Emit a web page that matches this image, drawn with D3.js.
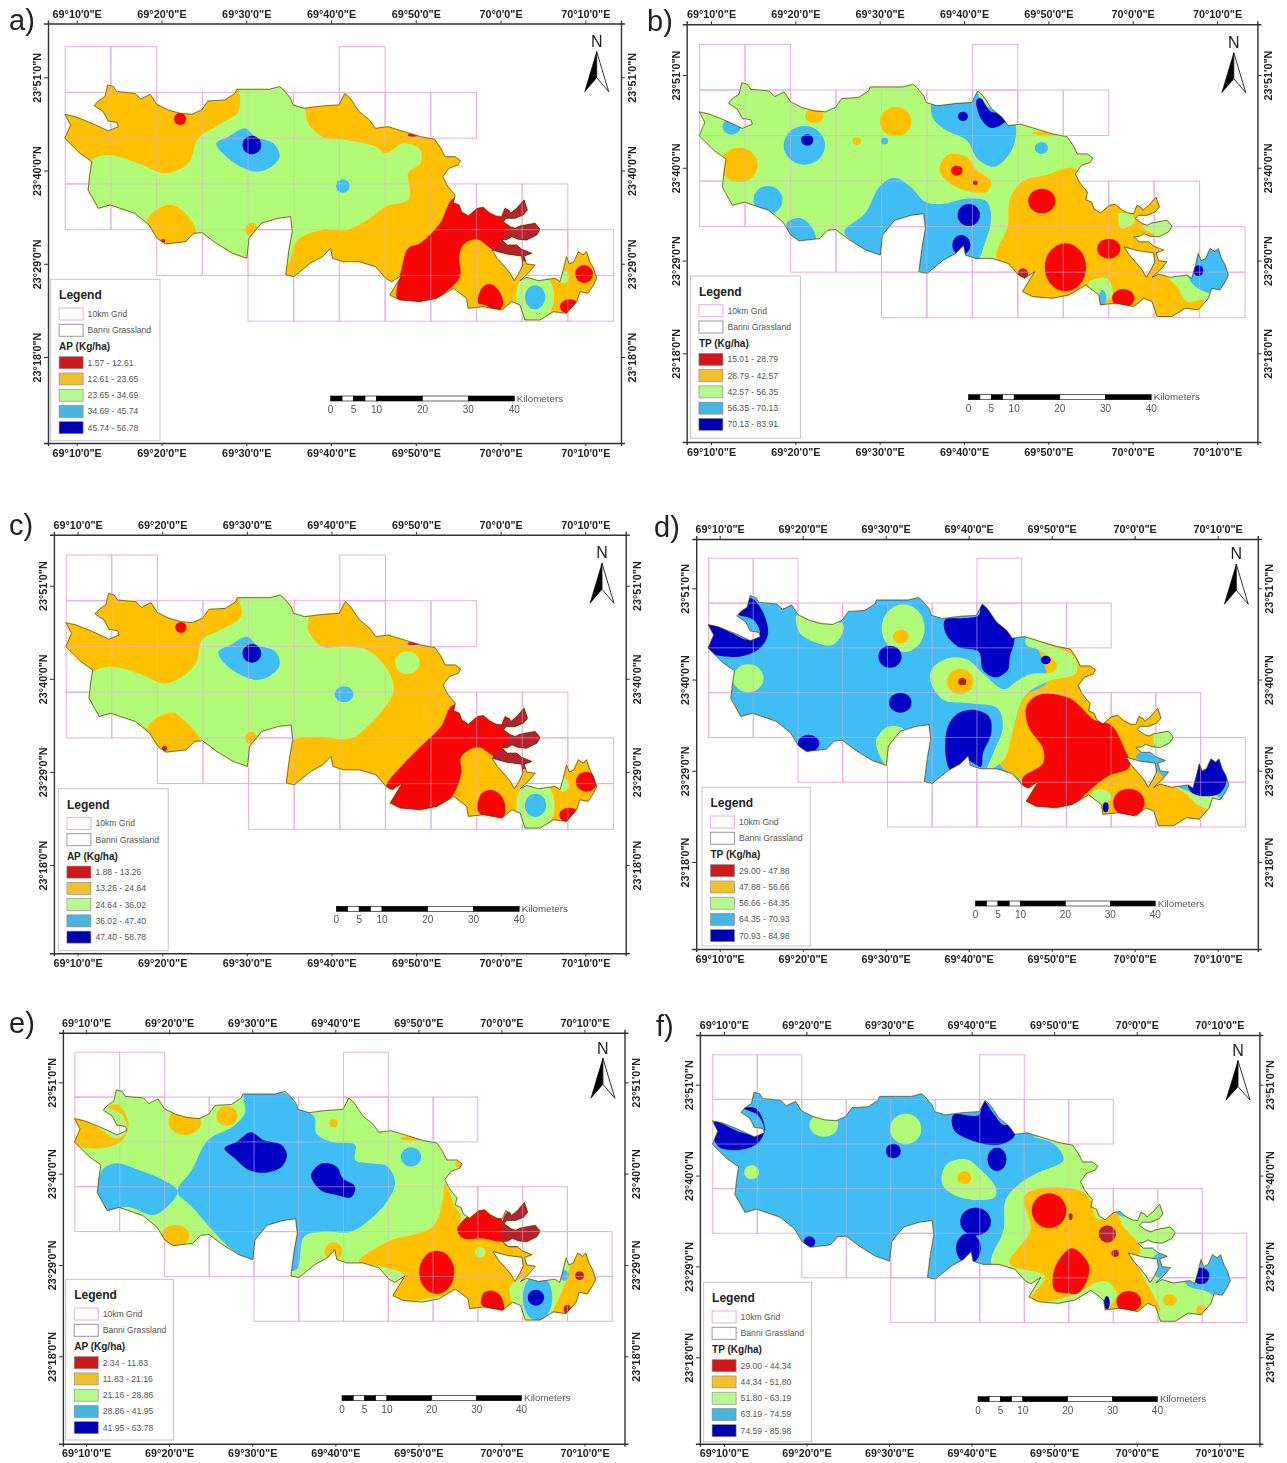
<!DOCTYPE html>
<html><head><meta charset="utf-8"><style>
html,body{margin:0;background:#fff}
svg{display:block;filter:blur(.55px)}
text{font-family:"Liberation Sans",Arial,sans-serif}
</style>
<script src="https://cdn.jsdelivr.net/npm/d3@7/dist/d3.min.js"></script></head><body>
<script>
// ---------- axis values ----------
const lonTicks=[10,20,30,40,50,60,70];
const lonTickLabels=['69°10\'0"E','69°20\'0"E','69°30\'0"E','69°40\'0"E','69°50\'0"E','70°0\'0"E','70°10\'0"E'];
const latTicks=[51,40,29,18];
const latTickLabels=['23°51\'0"N','23°40\'0"N','23°29\'0"N','23°18\'0"N'];
const scaleKm=[0,2.5,5,7.5,10,20,30,40];
const scaleLabels=[0,5,10,20,30,40];

// ---------- 10 km grid: row, columns present ----------
const gridRows=[[0,[0,1,6]],[1,[0,1,2,3,4,5,6,7,8]],[2,[0,1,2,3,4,5,6,7]],[3,[0,1,2,3,4,5,6,7,8,9,10]],[4,[2,3,4,5,6,7,8,9,10,11]],[5,[4,5,6,7,8,9,10,11]]];

// ---------- boundary and inner lake, digitised on sheet a ----------
const boundary=[[159,343],[184,350],[225,370],[265,393],[290,380],[286,367],[265,363],[253,335],[231,317],[241,303],[257,290],[264,255],[278,260],[286,275],[331,280],[345,297],[368,283],[384,313],[412,330],[441,340],[470,343],[494,330],[510,303],[551,300],[576,280],[580,268],[620,268],[660,268],[685,260],[695,270],[712,295],[718,315],[745,325],[790,318],[830,315],[845,280],[858,295],[880,335],[905,360],[920,385],[950,380],[990,395],[1030,410],[1065,418],[1080,445],[1090,470],[1115,470],[1128,482],[1122,495],[1100,505],[1085,530],[1095,555],[1104,570],[1115,585],[1111,608],[1125,615],[1131,635],[1147,648],[1169,625],[1184,622],[1199,638],[1215,648],[1229,650],[1237,625],[1248,632],[1251,640],[1266,625],[1278,608],[1284,600],[1292,630],[1282,645],[1262,655],[1240,655],[1233,665],[1250,680],[1262,685],[1274,678],[1311,670],[1323,688],[1315,705],[1290,720],[1270,718],[1254,710],[1243,718],[1229,720],[1243,735],[1266,735],[1278,748],[1303,760],[1284,768],[1290,792],[1311,795],[1294,820],[1274,842],[1290,832],[1319,842],[1360,835],[1372,845],[1380,810],[1388,770],[1395,792],[1406,785],[1417,755],[1429,765],[1437,755],[1445,785],[1454,805],[1462,835],[1454,855],[1441,880],[1421,875],[1413,905],[1388,940],[1356,935],[1323,960],[1286,960],[1274,915],[1254,905],[1229,930],[1184,920],[1147,925],[1143,895],[1111,865],[1070,895],[1029,905],[980,900],[955,885],[985,825],[960,845],[945,835],[920,800],[880,785],[840,785],[815,775],[810,745],[790,770],[760,790],[720,830],[700,825],[708,750],[716,695],[712,650],[680,655],[640,670],[610,715],[605,775],[570,760],[530,730],[495,698],[475,700],[455,725],[405,732],[385,715],[365,675],[330,640],[270,615],[241,625],[216,570],[220,525],[225,485],[196,460],[159,415],[173,375]];
const lake=[[1205,750],[1241,762],[1278,768],[1281,795],[1272,818],[1260,842],[1250,820],[1233,795],[1218,775]];

// ---------- classes: 0 red,1 orange,2 green,3 blue,4 dark blue,5 brick ----------
const baseA=1,baseB=2,baseC=1,baseD=3,baseE=2,baseF=3;
const refA=[[188,1434],[232,1071]],refB=[[172,1397],[225,1060]],refC=[[190,1434],[257,1095]],refD=[[193,1398],[265,1086]],refE=[[211,1432],[247,1069]],refF=[[203,1402],[254,1072]];

const zonesA=[
[2,[[588,250],[588,295],[584,335],[535,375],[486,415],[461,490],[404,520],[339,490],[265,465],[225,480],[205,530],[190,600],[240,660],[330,660],[480,760],[560,810],[620,820],[700,800],[730,720],[790,690],[850,690],[900,660],[945,620],[1000,600],[1005,570],[1000,520],[1030,490],[1030,450],[990,430],[945,460],[920,440],[850,420],[790,410],[755,370],[745,320],[710,260]]],
[1,[[365,650],[410,615],[440,625],[480,690],[470,735],[400,750],[360,690]]],
[3,[[530,430],[560,410],[600,385],[625,410],[670,430],[685,470],[665,500],[630,515],[590,500],[550,465]]],
[0,[[1111,595],[1078,670],[1029,730],[1000,745],[985,800],[975,905],[1040,920],[1098,870],[1127,830],[1125,770],[1135,735],[1168,718],[1205,748],[1250,775],[1320,780],[1350,700],[1310,590],[1240,600],[1160,610]]],
[5,[[1229,655],[1282,590],[1335,680],[1310,775],[1233,768],[1205,748],[1233,710],[1245,680]]],
[0,[[1172,910],[1180,865],[1200,852],[1221,870],[1233,910],[1221,932],[1188,915]]]];
const blobsA=[[4,617,435,23,28],[0,441,357,15,18],[1,544,343,5,5],[3,840,558,17,20],[5,1012,405,13,5],[1,617,690,15,22],[5,400,722,5,6],[2,1311,890,47,75],[3,1311,892,25,36],[2,1380,830,14,20],[0,1431,822,22,27],[0,1396,920,24,22]];

const zonesB=[
[1,[[1050,505],[985,525],[925,545],[895,600],[890,680],[862,770],[900,830],[915,900],[1000,925],[1120,945],[1250,975],[1330,965],[1365,900],[1325,905],[1300,860],[1275,825],[1290,790],[1240,720],[1290,640],[1270,590],[1150,610],[1085,560]]],
[2,[[1160,640],[1195,650],[1195,670],[1165,685]]],
[2,[[1218,680],[1270,655],[1300,690],[1270,720],[1240,700]]],
[2,[[1085,850],[1130,835],[1145,880],[1120,905]]],
[3,[[1325,815],[1355,740],[1405,735],[1445,820],[1400,880],[1345,860]]],
[3,[[710,300],[810,270],[830,310],[895,350],[910,380],[900,450],[860,500],[820,480],[790,420],[740,390],[708,350]]],
[4,[[815,300],[825,295],[850,335],[900,338],[880,370],[850,384],[825,355]]],
[1,[[725,510],[745,465],[790,470],[815,510],[850,545],[840,575],[800,575],[750,550]]],
[3,[[355,670],[390,655],[420,690],[425,725],[385,735]]],
[3,[[495,695],[545,640],[580,560],[615,533],[655,560],[690,605],[730,612],[790,596],[840,605],[850,660],[835,730],[818,780],[790,800],[700,830],[670,800],[650,760],[640,700],[600,780],[570,770],[520,730]]]];
const blobsB=[[0,1030,802,50,72],[0,973,603,33,37],[0,1135,746,28,30],[5,927,822,13,17],[0,1170,895,27,28],[1,985,400,35,7],[3,222,380,22,24],[3,398,436,50,58],[4,405,420,15,17],[1,422,348,22,22],[1,619,365,38,44],[1,525,423,10,11],[3,592,423,9,10],[1,240,495,45,52],[4,782,349,12,14],[3,972,444,16,18],[0,767,512,14,15],[5,812,548,6,7],[3,310,600,35,42],[4,796,645,27,33],[4,778,735,22,30],[3,1120,895,9,25],[4,1352,812,12,16]];

const zonesC=[
[2,[[590,285],[590,350],[540,390],[495,420],[480,490],[440,535],[400,550],[340,520],[270,500],[225,520],[205,600],[235,665],[330,670],[480,770],[600,820],[720,720],[770,710],[860,715],[900,680],[950,610],[965,570],[950,510],[900,450],[850,440],[790,440],[755,390],[755,340],[715,285]]],
[1,[[365,675],[420,637],[450,660],[490,720],[470,755],[400,775],[365,700]]],
[3,[[535,455],[565,435],[605,410],[630,435],[675,455],[685,495],[665,525],[630,540],[590,525],[550,490]]],
[0,[[1110,615],[1080,680],[1030,740],[990,790],[945,860],[945,925],[1020,935],[1100,900],[1130,820],[1130,770],[1170,742],[1210,770],[1250,800],[1320,800],[1350,720],[1300,610],[1240,630],[1170,640]]],
[5,[[1231,680],[1284,615],[1337,705],[1312,800],[1235,793],[1207,773],[1235,735],[1247,705]]],
[0,[[1172,935],[1180,880],[1205,870],[1230,890],[1238,935],[1225,962]]]];
const blobsC=[[2,998,488,30,34],[3,843,583,23,24],[4,617,460,23,28],[0,443,382,14,16],[1,545,368,3,4],[5,1012,431,14,5],[5,403,745,6,8],[1,615,715,14,20],[2,1312,915,47,75],[3,1312,916,26,35],[2,1380,855,14,20],[0,1437,845,26,30],[0,1395,945,25,22]];

const zonesD=[
[1,[[960,410],[1045,440],[1105,500],[1090,600],[1145,640],[1270,620],[1290,700],[1200,770],[1240,800],[1285,850],[1340,880],[1400,905],[1300,990],[1250,990],[1120,950],[1050,930],[940,920],[920,840],[870,790],[905,680],[930,590],[985,545]]],
[2,[[1245,702],[1290,700],[1280,730],[1250,742]]],
[2,[[1285,855],[1340,880],[1400,890],[1400,930],[1350,915],[1320,880]]],
[2,[[705,550],[705,510],[745,475],[790,478],[830,520],[880,568],[910,545],[945,522],[1000,515],[1008,490],[965,450],[935,435],[935,415],[1000,440],[1050,470],[1055,520],[985,545],[930,590],[905,680],[880,780],[840,810],[855,760],[878,680],[865,625],[800,610],[735,600]]],
[4,[[165,370],[215,395],[265,420],[290,400],[275,360],[235,340],[268,295],[295,330],[310,400],[290,445],[240,470],[160,450]]],
[2,[[380,345],[430,370],[490,370],[490,400],[465,435],[420,425],[385,395]]],
[2,[[571,725],[600,680],[640,690],[620,740],[600,800]]],
[4,[[738,360],[780,355],[820,345],[825,305],[845,330],[870,370],[905,380],[905,430],[895,470],[890,510],[860,532],[830,510],[820,455],[770,440],[740,400]]],
[0,[[935,620],[965,585],[1040,595],[1100,660],[1140,675],[1170,740],[1185,800],[1130,830],[1080,880],[1050,915],[980,925],[925,905],[965,845],[930,868],[925,835],[975,790],[975,745],[940,680]]],
[4,[[745,680],[770,640],[810,630],[845,650],[850,700],[830,760],[825,800],[790,780],[755,815],[740,770]]],
[4,[[1325,850],[1355,785],[1405,770],[1420,840],[1400,882],[1340,882]]]];
const blobsD=[[2,262,535,37,42],[2,637,385,52,72],[1,631,410,19,21],[4,605,470,28,33],[4,630,608,27,30],[4,408,730,26,26],[4,982,480,12,13],[1,775,545,32,38],[5,780,545,10,11],[2,1115,890,25,22],[4,1127,922,7,15],[0,1183,908,38,42]];

const zonesE=[
[3,[[600,280],[700,280],[730,320],[770,350],[775,400],[810,425],[870,435],[870,480],[905,490],[950,500],[968,550],[945,610],[905,660],[860,695],[790,695],[745,710],[725,810],[640,790],[620,790],[560,740],[520,690],[470,620],[435,575],[470,510],[510,420],[570,380],[600,340]]],
[3,[[250,510],[285,490],[340,510],[400,540],[435,575],[400,630],[375,645],[310,620],[265,635],[240,590]]],
[4,[[550,445],[580,425],[615,397],[645,420],[690,435],[703,465],[690,500],[650,518],[610,510],[575,475]]],
[4,[[762,525],[790,490],[825,500],[840,535],[870,560],[860,592],[825,585],[785,570]]],
[1,[[178,355],[230,375],[285,415],[310,395],[300,345],[265,320],[290,315],[315,370],[300,420],[250,445],[180,430]]],
[1,[[1090,550],[1115,620],[1130,650],[1120,700],[1230,720],[1310,770],[1295,820],[1250,860],[1255,945],[1160,935],[1140,890],[1050,895],[960,915],[950,880],[990,825],[935,800],[880,785],[950,725],[1060,680],[1085,600]]],
[1,[[1365,905],[1385,850],[1400,790],[1435,750],[1475,840],[1440,890],[1380,965],[1345,965]]],
[0,[[1120,690],[1140,655],[1185,630],[1230,660],[1235,722],[1180,715],[1135,715]]],
[5,[[1235,650],[1285,600],[1298,650],[1255,680],[1325,670],[1332,710],[1240,738]]],
[0,[[1178,905],[1185,880],[1205,872],[1225,885],[1235,930],[1222,940],[1180,915]]]];
const blobsE=[[1,453,365,40,40],[1,556,348,26,30],[1,430,707,34,32],[1,817,755,22,28],[2,818,770,9,14],[1,817,370,10,12],[3,1007,471,25,29],[1,1010,415,30,7],[1,1125,493,10,10],[0,1070,817,43,65],[2,1177,757,13,16],[3,1317,893,36,70],[4,1313,893,20,24],[3,1382,826,12,16],[5,1420,827,11,13],[1,1388,925,14,28],[5,1390,928,9,14]];

const zonesF=[
[2,[[950,410],[1000,430],[1025,480],[960,520],[920,550],[885,600],[880,690],[850,790],[900,830],[940,905],[1130,950],[1260,975],[1400,925],[1380,880],[1330,860],[1310,840],[1250,830],[1240,780],[1300,700],[1260,610],[1170,650],[1100,580],[1110,480],[1050,430]]],
[1,[[930,590],[970,565],[1060,570],[1085,590],[1110,660],[1150,635],[1170,680],[1210,740],[1205,790],[1240,880],[1258,935],[1130,935],[1150,890],[1120,845],[1085,860],[1050,885],[940,905],[980,830],[895,790],[945,690]]],
[2,[[1090,860],[1130,845],[1155,885],[1120,910]]],
[4,[[180,365],[240,395],[280,405],[300,395],[285,345],[250,325],[280,325],[302,385],[285,430],[240,450],[190,440],[175,400]]],
[4,[[758,345],[820,345],[830,300],[855,340],[880,375],[910,365],[905,410],[865,435],[800,420],[760,390]]],
[2,[[730,530],[745,490],[790,478],[825,510],[860,560],[860,590],[830,600],[770,590],[735,560]]],
[0,[[1003,870],[1005,800],[1045,745],[1085,790],[1085,830],[1060,880],[1035,880]]]];
const blobsF=[[2,445,375,35,35],[2,643,387,38,46],[4,613,453,18,22],[2,270,517,18,21],[4,410,726,14,17],[4,864,478,23,35],[1,785,533,17,19],[4,812,665,37,42],[4,795,745,30,45],[4,1130,908,7,20],[0,990,632,42,52],[5,1042,650,5,10],[5,1131,702,21,26],[5,1150,760,9,11],[0,1183,905,30,32],[1,1282,900,17,18],[1,1358,930,12,15],[4,1358,828,20,25]];

// ---------- legends ----------
const panelLetters=["a)","b)","c)","d)","e)","f)"];
const legendTitles=["AP (Kg/ha)","TP (Kg/ha)","AP (Kg/ha)","TP (Kg/ha)","AP (Kg/ha)","TP (Kg/ha)"];
const legendA=["1.57 - 12.61","12.61 - 23.65","23.65 - 34.69","34.69 - 45.74","45.74 - 56.78"];
const legendB=["15.01 - 28.79","28.79 - 42.57","42.57 - 56.35","56.35 - 70.13","70.13 - 83.91"];
const legendC=["1.88 - 13.26","13.26 - 24.64","24.64 - 36.02","36.02 - 47.40","47.40 - 58.78"];
const legendD=["29.00 - 47.88","47.88 - 56.66","56.66 - 64.35","64.35 - 70.93","70.93 - 84.98"];
const legendE=["2.34 - 11.83","11.83 - 21.16","21.16 - 28.86","28.86 - 41.95","41.95 - 63.78"];
const legendF=["29.00 - 44.34","44.34 - 51.80","51.80 - 63.19","63.19 - 74.59","74.59 - 85.98"];

// ---------- layout & style ----------
const classColors=["#f60606","#ffc000","#b2fb78","#3fbdf4","#0000c4","#b8202a"];
const swatchColors=["#d0181c","#f0c030","#b8f890","#48b4e0","#0000b0"];
const gridColor="#e3b0e3";
const layouts=[
{f:[48,621,23.5,443],lon:[76.7,585.3],lat:[77.3,357],leg:[50.6,279.3,109.4,161.4],bar:[330.6,514.3,396],north:[596.7,40.7,51.7,91.7],letter:[9,30]},
{f:[686.7,1257.4,24.3,442],lon:[711,1217],lat:[75,353.3],leg:[690.4,276,110,162.3],bar:[968.5,1151.2,394.7],north:[1233.8,41.7,52.7,92.7],letter:[647,31]},
{f:[53.9,625.7,534.7,953.3],lon:[77.6,585.3],lat:[585.7,865],leg:[58.4,788.7,109.8,162],bar:[336.3,519.2,906.3],north:[602,552.3,563.3,603.3],letter:[9,535]},
{f:[696.2,1257.8,539,949],lon:[719.7,1217.7],lat:[588.3,862],leg:[702,787.3,108.2,158.7],bar:[975.5,1155.3,901],north:[1236.3,553.3,564.3,604.3],letter:[654,537]},
{f:[62.9,624.5,1032.7,1443.7],lon:[86.1,584.5],lat:[1082.3,1356.3],leg:[65.7,1279.3,107.8,160.7],bar:[342,521.6,1395.7],north:[602.9,1047.7,1058.3,1098.3],letter:[9,1033]},
{f:[699.9,1259.4,1035,1443.7],lon:[723.9,1219.3],lat:[1084.7,1357.3],leg:[703.6,1282.3,107.9,159.4],bar:[978,1157.4,1396.7],north:[1238,1050,1060.7,1100],letter:[656,1036]}
];
const panels=[
{base:baseA,ref:refA,zones:zonesA,blobs:blobsA,legend:legendA},
{base:baseB,ref:refB,zones:zonesB,blobs:blobsB,legend:legendB},
{base:baseC,ref:refC,zones:zonesC,blobs:blobsC,legend:legendC},
{base:baseD,ref:refD,zones:zonesD,blobs:blobsD,legend:legendD},
{base:baseE,ref:refE,zones:zonesE,blobs:blobsE,legend:legendE},
{base:baseF,ref:refF,zones:zonesF,blobs:blobsF,legend:legendF}];

const svg=d3.select("body").append("svg").attr("width",1287).attr("height",1463);
const georef=r=>[d3.scaleLinear().domain(r[0]).range([10,70]),d3.scaleLinear().domain(r[1]).range([51,18])];
const [bLon,bLat]=georef(refA);
// grid edges expressed in minutes, read from sheet a
const gridLon=i=>8.65+5.39*i, gridLat=j=>54.62-5.4*j;

panels.forEach((p,idx)=>{
  const L=layouts[idx], g=svg.append("g");
  const X=d3.scaleLinear().domain([10,70]).range(L.lon), Y=d3.scaleLinear().domain([51,18]).range(L.lat);
  const [uLon,vLat]=georef(p.ref);
  const zx=u=>X(uLon(u)), zy=v=>Y(vLat(v));

  g.append("rect").attr("x",L.f[0]).attr("y",L.f[2]).attr("width",L.f[1]-L.f[0]).attr("height",L.f[3]-L.f[2]).attr("fill","#fff");

  const cells=gridRows.flatMap(([r,cols])=>cols.map(c=>({r,c})));
  const drawGrid=(sel,op)=>sel.selectAll("rect").data(cells).join("rect")
    .attr("x",d=>X(gridLon(d.c))).attr("y",d=>Y(gridLat(d.r)))
    .attr("width",d=>X(gridLon(d.c+1))-X(gridLon(d.c))).attr("height",d=>Y(gridLat(d.r+1))-Y(gridLat(d.r)))
    .attr("fill","none").attr("stroke",gridColor).attr("stroke-width",1).attr("opacity",op);
  drawGrid(g.append("g"),1);

  const ring=d3.line().x(d=>X(bLon(d[0]))).y(d=>Y(bLat(d[1]))).curve(d3.curveLinearClosed);
  const outline=ring(boundary)+ring(lake);
  g.append("clipPath").attr("id","clip"+idx).append("path").attr("d",outline).attr("clip-rule","evenodd");
  g.append("path").attr("d",outline).attr("fill","none").attr("stroke","#fff3a0").attr("stroke-width",2.5).attr("opacity",.8);
  const map=g.append("g").attr("clip-path",`url(#clip${idx})`);
  map.append("path").attr("d",ring(boundary)).attr("fill",classColors[p.base]);
  const smooth=d3.line().x(d=>zx(d[0])).y(d=>zy(d[1])).curve(d3.curveCatmullRomClosed.alpha(.5));
  map.selectAll("path.z").data(p.zones).join("path").attr("class","z").attr("d",d=>smooth(d[1])).attr("fill",d=>classColors[d[0]]);
  map.selectAll("ellipse").data(p.blobs).join("ellipse")
    .attr("cx",d=>zx(d[1])).attr("cy",d=>zy(d[2]))
    .attr("rx",d=>Math.abs(zx(d[1]+d[3])-zx(d[1]))).attr("ry",d=>Math.abs(zy(d[2]+d[4])-zy(d[2])))
    .attr("fill",d=>classColors[d[0]]);
  drawGrid(g.append("g").attr("clip-path",`url(#clip${idx})`),.3);
  g.append("path").attr("d",outline).attr("fill","none").attr("stroke","#3a3a3a").attr("stroke-width",.7);

  // frame + axes
  const xAxisScale=X.copy().domain([X.invert(L.f[0]),X.invert(L.f[1])]).range([L.f[0],L.f[1]]);
  const yAxisScale=Y.copy().domain([Y.invert(L.f[2]),Y.invert(L.f[3])]).range([L.f[2],L.f[3]]);
  const lonFmt=v=>lonTickLabels[lonTicks.indexOf(v)], latFmt=v=>latTickLabels[latTicks.indexOf(v)];
  const styleAxis=a=>{a.select(".domain").attr("stroke","#333").attr("stroke-width",1.4);a.selectAll(".tick line").attr("stroke","#333");
    a.selectAll("text").attr("font-size",10.8).attr("font-weight","bold").attr("fill","#222").attr("font-family",'"Liberation Sans",Arial,sans-serif');};
  const mk=(axis,tx,ty)=>{const a=g.append("g").attr("transform",`translate(${tx},${ty})`).call(axis);styleAxis(a);return a;};
  mk(d3.axisTop(xAxisScale).tickValues(lonTicks).tickFormat(lonFmt).tickSize(3).tickPadding(3),0,L.f[2]);
  mk(d3.axisBottom(xAxisScale).tickValues(lonTicks).tickFormat(lonFmt).tickSize(3).tickPadding(3),0,L.f[3]);
  mk(d3.axisLeft(yAxisScale).tickValues(latTicks).tickFormat(latFmt).tickSize(4),L.f[0],0)
    .selectAll("text").attr("transform","rotate(-90)").attr("x",0).attr("y",-7).attr("dy",0).attr("text-anchor","middle");
  mk(d3.axisRight(yAxisScale).tickValues(latTicks).tickFormat(latFmt).tickSize(4),L.f[1],0)
    .selectAll("text").attr("transform","rotate(-90)").attr("x",0).attr("y",15).attr("dy",0).attr("text-anchor","middle");

  // letter
  g.append("text").attr("x",L.letter[0]).attr("y",L.letter[1]).attr("font-size",29).attr("fill","#222").text(panelLetters[idx]);

  // north arrow
  const [nx,ny,nt,nb]=L.north, hw=12;
  g.append("text").attr("x",nx).attr("y",ny+6).attr("text-anchor","middle").attr("font-size",16).attr("fill","#222").text("N");
  g.append("path").attr("d",d3.line()([[nx,nt],[nx,nt+26],[nx-hw,nb]])+"Z").attr("fill","#000").attr("stroke","#000").attr("stroke-width",.6);
  g.append("path").attr("d",d3.line()([[nx,nt],[nx,nt+26],[nx+hw,nb]])+"Z").attr("fill","#fff").attr("stroke","#000").attr("stroke-width",.8);

  // legend
  const [lx,ly,lw,lh]=L.leg, leg=g.append("g").attr("transform",`translate(${lx},${ly})`);
  leg.append("rect").attr("width",lw).attr("height",lh).attr("fill","#fff").attr("stroke","#c4c4c4");
  leg.append("text").attr("x",8.5).attr("y",20).attr("font-size",12).attr("font-weight","bold").attr("fill","#222").text("Legend");
  [["10km Grid",34.7,gridColor],["Banni Grassland",51,"#999"]].forEach(([t,y,c])=>{
    leg.append("rect").attr("x",8.5).attr("y",y-6).attr("width",24).attr("height",12).attr("fill","#fff").attr("stroke",c);
    leg.append("text").attr("x",37).attr("y",y+3).attr("font-size",8.6).attr("fill","#555").text(t);
  });
  leg.append("text").attr("x",8.5).attr("y",71).attr("font-size",10).attr("font-weight","bold").attr("fill","#222").text(legendTitles[idx]);
  const rowY=d3.scaleLinear().domain([0,4]).range([83.4,148.4]);
  p.legend.forEach((t,i)=>{
    leg.append("rect").attr("x",8.5).attr("y",rowY(i)-6).attr("width",24).attr("height",12).attr("fill",swatchColors[i]).attr("stroke","#888").attr("stroke-width",.6);
    leg.append("text").attr("x",37).attr("y",rowY(i)+3).attr("font-size",8.6).attr("fill","#555").text(t);
  });

  // scale bar
  const km=d3.scaleLinear().domain([0,40]).range([L.bar[0],L.bar[1]]), by=L.bar[2];
  d3.pairs(scaleKm).forEach(([a,b],i)=>{
    g.append("rect").attr("x",km(a)).attr("y",by).attr("width",km(b)-km(a)).attr("height",5).attr("fill",i%2?"#fff":"#000").attr("stroke","#000").attr("stroke-width",.6);
  });
  scaleLabels.forEach(v=>g.append("text").attr("x",km(v)).attr("y",by+17).attr("text-anchor","middle").attr("font-size",10).attr("fill","#555").text(v));
  g.append("text").attr("x",km(40)+2.5).attr("y",by+5.5).attr("font-size",9.8).attr("fill","#555").text("Kilometers");
});
</script></body></html>
